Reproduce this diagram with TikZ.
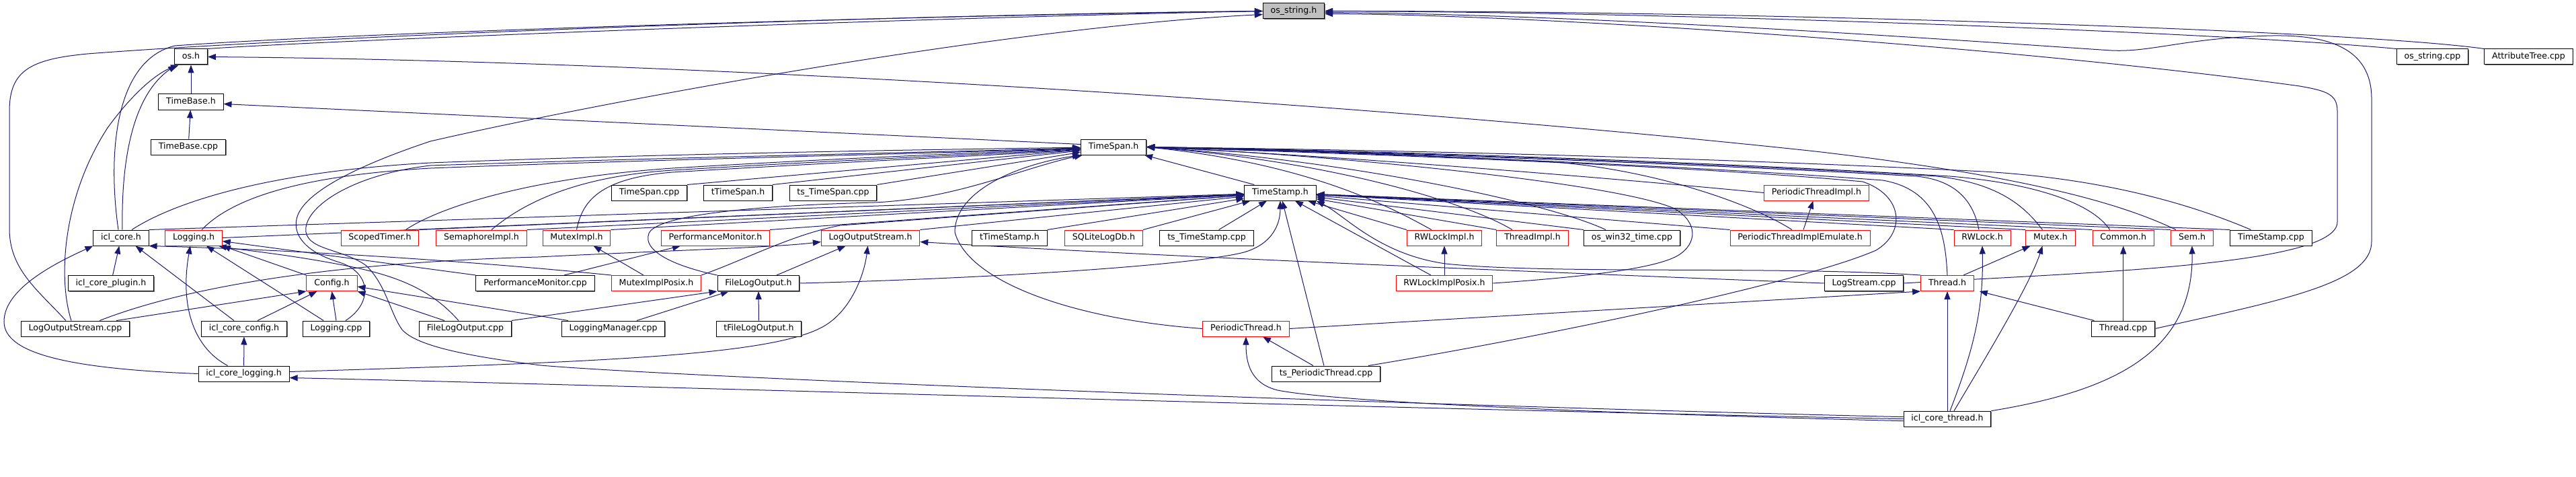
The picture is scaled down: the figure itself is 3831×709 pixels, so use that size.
\documentclass[tikz,border=0pt]{standalone}
\usepackage{fontspec}
\setmainfont{DejaVu Sans}
\usetikzlibrary{arrows.meta,shadows}
\definecolor{edgecol}{HTML}{191970}
\definecolor{redb}{HTML}{FF0000}
\definecolor{grayf}{HTML}{BFBFBF}
\pgfdeclarelayer{edgelayer}
\pgfsetlayers{edgelayer,main}
\begin{document}
\begin{tikzpicture}[x=1bp,y=-1bp,
  fb/.style={draw=black, line width=1bp, fill=white, minimum height=23bp, inner xsep=11.3bp, inner ysep=0pt,
             text height=9.5bp, text depth=3bp, font=\fontsize{12.6bp}{15bp}\selectfont, text=black},
  bb/.style={fb, drop shadow={shadow xshift=1.2bp, shadow yshift=-1.2bp, fill=black!55, opacity=1}},
  rb/.style={fb, draw=redb},
  gb/.style={bb, fill=grayf},
  dep/.style={draw=edgecol, line width=1bp, -{Triangle[length=12bp,width=9bp]}},
]
\useasboundingbox (0,0) rectangle (3831,709);

% ---------- nodes ----------
\node[gb] (os_string) at (1924,16.5) {os\_string.h};
\node[bb] (os) at (284,84.5) {os.h};
\node[bb] (os_string_cpp) at (3617.5,84.5) {os\_string.cpp};
\node[bb] (AttributeTree) at (3760.5,84.5) {AttributeTree.cpp};
\node[bb] (TimeBase_h) at (284,151.5) {TimeBase.h};
\node[bb] (TimeBase_cpp) at (280,218.5) {TimeBase.cpp};
\node[bb] (TimeSpan_h) at (1656,218.5) {TimeSpan.h};
\node[bb] (TimeSpan_cpp) at (965.5,286.5) {TimeSpan.cpp};
\node[bb] (tTimeSpan) at (1097.5,286.5) {tTimeSpan.h};
\node[bb] (ts_TimeSpan) at (1239,286.5) {ts\_TimeSpan.cpp};
\node[bb] (TimeStamp_h) at (1904,286.5) {TimeStamp.h};
\node[rb] (PTI) at (2701.5,286.5) {PeriodicThreadImpl.h};

\node[bb] (icl_core) at (180,353.5) {icl\_core.h};
\node[rb] (Logging_h) at (288,353.5) {Logging.h};
\node[rb] (ScopedTimer) at (565,353.5) {ScopedTimer.h};
\node[rb] (SemaphoreImpl) at (716,353.5) {SemaphoreImpl.h};
\node[rb] (MutexImpl_h) at (857.5,353.5) {MutexImpl.h};
\node[rb] (PerfMon_h) at (1064,353.5) {PerformanceMonitor.h};
\node[rb] (LOS_h) at (1294.6,353.5) {LogOutputStream.h};
\node[bb] (tTimeStamp) at (1501.5,353.5) {tTimeStamp.h};
\node[rb] (SQLiteLogDb) at (1641.5,353.5) {SQLiteLogDb.h};
\node[bb] (ts_TimeStamp) at (1794.5,353.5) {ts\_TimeStamp.cpp};
\node[rb] (RWLockImpl_h) at (2148,353.5) {RWLockImpl.h};
\node[rb] (ThreadImpl_h) at (2279,353.5) {ThreadImpl.h};
\node[bb] (os_win32_time) at (2427,353.5) {os\_win32\_time.cpp};
\node[rb] (PTIE) at (2677,353.5) {PeriodicThreadImplEmulate.h};
\node[rb] (RWLock_h) at (2948,353.5) {RWLock.h};
\node[rb] (Mutex_h) at (3049.5,353.5) {Mutex.h};
\node[rb] (Common_h) at (3157.7,353.5) {Common.h};
\node[rb] (Sem_h) at (3260,353.5) {Sem.h};
\node[bb] (TimeStamp_cpp) at (3377.5,353.5) {TimeStamp.cpp};

\node[bb] (icl_core_plugin) at (165,421) {icl\_core\_plugin.h};
\node[rb] (Config_h) at (493.5,421) {Config.h};
\node[bb] (PerfMon_cpp) at (796,421) {PerformanceMonitor.cpp};
\node[rb] (MutexImplPosix) at (976,421) {MutexImplPosix.h};
\node[bb] (FLO_h) at (1128,421) {FileLogOutput.h};
\node[rb] (RWLockImplPosix) at (2148,421) {RWLockImplPosix.h};
\node[bb] (LogStream_cpp) at (2772,421) {LogStream.cpp};
\node[rb] (Thread_h) at (2896,421) {Thread.h};

\node[bb] (LOScpp) at (112,488.5) {LogOutputStream.cpp};
\node[bb] (icl_core_config) at (363,488.5) {icl\_core\_config.h};
\node[bb] (Logging_cpp) at (500,488.5) {Logging.cpp};
\node[bb] (FLO_cpp) at (692,488.5) {FileLogOutput.cpp};
\node[bb] (LoggingManager) at (912,488.5) {LoggingManager.cpp};
\node[bb] (tFLO) at (1128.5,488.5) {tFileLogOutput.h};
\node[rb] (PeriodicThread_h) at (1853,488.5) {PeriodicThread.h};
\node[bb] (Thread_cpp) at (3157.7,488.5) {Thread.cpp};

\node[bb] (icl_core_logging) at (362.6,555.5) {icl\_core\_logging.h};
\node[bb] (ts_PeriodicThread) at (1972,555.5) {ts\_PeriodicThread.cpp};
\node[bb] (icl_core_thread) at (2896,622.7) {icl\_core\_thread.h};

% ---------- edges ----------
\begin{pgfonlayer}{edgelayer}
% into os_string.h
\draw[dep] (os.north east) .. controls (450,62) and (1300,28) .. (os_string.west);
\draw[dep] ([xshift=-4bp]icl_core.north) .. controls (160,230) and (170,90) .. (260,68) .. controls (500,50) and (1300,24) .. (os_string.west);
\draw[dep] ([xshift=-14bp]LOScpp.north) .. controls (55,430) and (14,400) .. (14,340) -- (14,165) .. controls (14,105) and (45,88) .. (130,80) .. controls (450,55) and (1300,22) .. (os_string.west);
\draw[dep] ([xshift=14bp]Logging_cpp.north) .. controls (555,450) and (552,405) .. (505,390) .. controls (455,375) and (436,350) .. (441,326) .. controls (448,290) and (520,250) .. (640,210) .. controls (900,150) and (1500,40) .. ([yshift=-5bp]os_string.west);
\draw[dep] (os_string_cpp.north west) .. controls (3300,48) and (2500,18) .. (os_string.east);
\draw[dep] (AttributeTree.north west) .. controls (3500,45) and (2600,16) .. (os_string.east);
\draw[dep] (Thread_cpp.east) .. controls (3400,445) and (3527,420) .. (3527,359) -- (3527,147) .. controls (3527,70) and (3460,52) .. (3380,53) .. controls (3250,56) and (3200,78) .. (3140,75) .. controls (3000,66) and (2400,22) .. ([yshift=-2bp]os_string.east);
\draw[dep] (LogStream_cpp.east) .. controls (3100,405) and (3476,395) .. (3476,330) -- (3476,165) .. controls (3476,140) and (3460,135) .. (3420,128) .. controls (3000,70) and (2300,22) .. ([yshift=-4bp]os_string.east);

% into os.h
\draw[dep] ([xshift=2bp]icl_core.north) .. controls (180,230) and (200,140) .. ([xshift=3bp]os.south west);
\draw[dep] ([xshift=-6bp]LOScpp.north) .. controls (85,410) and (95,290) .. (160,190) .. controls (200,135) and (235,108) .. ([xshift=7bp]os.south west);
\draw[dep] (TimeBase_h) -- (os);
\draw[dep] ([xshift=-24bp]Sem_h.north) .. controls (3150,300) and (3000,260) .. (2700,225) .. controls (2000,150) and (1000,90) .. (os.east);

% into TimeBase.h
\draw[dep] (TimeBase_cpp) -- (TimeBase_h);
\draw[dep] ([yshift=4bp]TimeSpan_h.west) -- ([yshift=-3bp]TimeBase_h.east);

% into TimeSpan.h from the left
\draw[dep] ([xshift=16bp]icl_core.north) .. controls (260,300) and (400,255) .. (640,242) .. controls (1000,228) and (1400,222) .. (TimeSpan_h);
\draw[dep] ([xshift=12bp]Logging_h.north) .. controls (340,300) and (430,262) .. (640,250) .. controls (1000,236) and (1400,228) .. (TimeSpan_h);
\draw[dep] ([xshift=-20bp]ScopedTimer.north east) .. controls (650,310) and (780,265) .. (1000,250) .. controls (1300,232) and (1500,226) .. (TimeSpan_h);
\draw[dep] ([xshift=15bp]SemaphoreImpl.north) .. controls (780,300) and (860,262) .. (1000,253) .. controls (1300,235) and (1500,228) .. (TimeSpan_h);
\draw[dep] (MutexImpl_h.north) .. controls (866,300) and (890,265) .. (1000,256) .. controls (1300,238) and (1500,230) .. (TimeSpan_h);
\draw[dep] (TimeSpan_cpp.north east) -- (TimeSpan_h);
\draw[dep] (tTimeSpan.north east) -- (TimeSpan_h);
\draw[dep] (ts_TimeSpan.north east) -- (TimeSpan_h);
\draw[dep] (PeriodicThread_h.west) .. controls (1600,475) and (1440,420) .. (1420,345) .. controls (1420,285) and (1510,245) .. (TimeSpan_h.south west);
\draw[dep] (FLO_h.north west) .. controls (1000,395) and (955,372) .. (965,347) .. controls (975,322) and (1100,306) .. (1300,301) .. controls (1420,296) and (1520,250) .. ([xshift=3bp]TimeSpan_h.south west);
\draw[dep] ([yshift=3bp]icl_core_thread.west) .. controls (2000,600) and (1000,560) .. (804,543) .. controls (700,530) and (620,515) .. (598,490) .. controls (580,465) and (575,425) .. (545,395) .. controls (510,370) and (460,372) .. (455,345) .. controls (450,310) and (520,260) .. (640,246) .. controls (1000,234) and (1400,226) .. (TimeSpan_h);

% into TimeSpan.h from the right
\draw[dep] ([xshift=15bp]TimeStamp_h.north west) -- ([xshift=-3bp]TimeSpan_h.south east);
\draw[dep] ([xshift=-19bp]RWLockImpl_h.north) .. controls (2080,315) and (1960,245) .. (TimeSpan_h.east);
\draw[dep] ([xshift=-30bp]ThreadImpl_h.north) .. controls (2180,300) and (1980,240) .. (TimeSpan_h.east);
\draw[dep] ([xshift=-39bp]os_win32_time.north) .. controls (2300,300) and (2000,238) .. (TimeSpan_h.east);
\draw[dep] (PTI.west) .. controls (2400,265) and (2000,232) .. (TimeSpan_h.east);
\draw[dep] ([xshift=-12bp]PTIE.north) .. controls (2600,300) and (2450,250) .. (2300,240) .. controls (2000,225) and (1800,220) .. (TimeSpan_h.east);
\draw[dep] ([xshift=-18bp]ts_PeriodicThread.north east) .. controls (2300,500) and (2680,420) .. (2790,372) .. controls (2835,345) and (2830,290) .. (2770,270) .. controls (2500,245) and (2000,228) .. (TimeSpan_h.east);
\draw[dep] (Thread_h.north) .. controls (2893,345) and (2880,282) .. (2800,268) .. controls (2500,245) and (2000,226) .. (TimeSpan_h.east);
\draw[dep] ([xshift=-5bp]RWLock_h.north) .. controls (2935,300) and (2910,268) .. (2850,262) .. controls (2500,242) and (2000,225) .. (TimeSpan_h.east);
\draw[dep] ([xshift=-12bp]Mutex_h.north) .. controls (3010,305) and (2970,272) .. (2880,262) .. controls (2500,240) and (2000,224) .. (TimeSpan_h.east);
\draw[dep] ([xshift=-20bp]Common_h.north) .. controls (3110,300) and (3020,272) .. (2900,262) .. controls (2500,238) and (2000,223) .. (TimeSpan_h.east);
\draw[dep] ([xshift=-30bp]TimeStamp_cpp.north) .. controls (3250,300) and (3120,265) .. (2950,255) .. controls (2500,232) and (2000,222) .. (TimeSpan_h.east);
\draw[dep] (RWLockImplPosix.east) .. controls (2350,412) and (2460,400) .. (2495,380) .. controls (2525,362) and (2525,330) .. (2490,310) .. controls (2400,270) and (1950,228) .. (TimeSpan_h.east);

% into TimeStamp.h from the left
\draw[dep] (icl_core.north east) -- (TimeStamp_h);
\draw[dep] (Logging_h.east) -- (TimeStamp_h);
\draw[dep] (ScopedTimer.north east) -- (TimeStamp_h);
\draw[dep] (SemaphoreImpl.north east) -- (TimeStamp_h);
\draw[dep] (MutexImpl_h.north east) -- (TimeStamp_h);
\draw[dep] (PerfMon_h.north east) -- (TimeStamp_h);
\draw[dep] (LOS_h.north east) -- (TimeStamp_h);
\draw[dep] (tTimeStamp.north east) -- (TimeStamp_h);
\draw[dep] (SQLiteLogDb.north east) -- (TimeStamp_h);
\draw[dep] ([xshift=18bp]ts_TimeStamp.north) -- (TimeStamp_h);
\draw[dep] (MutexImplPosix.north east) .. controls (1110,385) and (1180,348) .. (1250,335) -- (TimeStamp_h);
\draw[dep] (FLO_h.east) .. controls (1500,413) and (1780,393) .. (1850,375) .. controls (1895,362) and (1904,330) .. (TimeStamp_h.south);
\draw[dep] (ts_PeriodicThread) -- (TimeStamp_h);
\draw[dep] ([xshift=-20bp]RWLockImplPosix.north) -- (TimeStamp_h);
\draw[dep] (Thread_h.north west) .. controls (2650,395) and (2300,408) .. (2150,392) .. controls (2050,378) and (2000,320) .. (TimeStamp_h.south east);

% into TimeStamp.h from the right
\draw[dep] (RWLockImpl_h.north west) -- (TimeStamp_h);
\draw[dep] (ThreadImpl_h.north west) -- (TimeStamp_h);
\draw[dep] (os_win32_time.north west) -- (TimeStamp_h);
\draw[dep] (PTIE.north west) -- (TimeStamp_h);
\draw[dep] (RWLock_h.north west) -- (TimeStamp_h);
\draw[dep] (Mutex_h.north west) -- (TimeStamp_h);
\draw[dep] (Common_h.north west) -- (TimeStamp_h);
\draw[dep] (Sem_h.north west) -- (TimeStamp_h);
\draw[dep] (TimeStamp_cpp.north west) -- (TimeStamp_h);

% into icl_core.h
\draw[dep] (icl_core_plugin) -- (icl_core);
\draw[dep] ([xshift=-15bp]icl_core_config.north) -- ([xshift=-20bp]icl_core.south east);
\draw[dep] (icl_core_logging.west) .. controls (100,548) and (6,525) .. (6,478) .. controls (6,430) and (80,392) .. (icl_core.south west);
\draw[dep] (MutexImplPosix.north west) .. controls (700,388) and (450,372) .. (icl_core.south east);

% into Logging.h
\draw[dep] (Config_h.north west) -- (Logging_h.south east);
\draw[dep] (Logging_cpp) -- (Logging_h);
\draw[dep] ([xshift=-24bp]icl_core_logging.north) .. controls (285,515) and (268,450) .. ([xshift=-5bp]Logging_h.south);
\draw[dep] (PerfMon_cpp.north west) -- ([yshift=-5bp]Logging_h.east);
\draw[dep] ([xshift=-10bp]FLO_cpp.north) .. controls (645,435) and (600,412) .. (520,396) .. controls (430,378) and (360,372) .. ([xshift=-6bp]Logging_h.south east);

% into Config.h
\draw[dep] ([xshift=-20bp]LOScpp.north east) -- (Config_h.south west);
\draw[dep] ([xshift=20bp]icl_core_config.north) -- ([xshift=-22bp]Config_h.south);
\draw[dep] (Logging_cpp.north) -- (Config_h.south);
\draw[dep] ([xshift=-31bp]FLO_cpp.north) -- (Config_h.south east);
\draw[dep] ([xshift=-67bp]LoggingManager.north) -- ([yshift=-5bp]Config_h.east);

% into LogOutputStream.h
\draw[dep] ([xshift=-45bp]LOScpp.north east) .. controls (280,425) and (500,390) .. (800,382) .. controls (1000,372) and (1150,368) .. ([yshift=-6bp]LOS_h.west);
\draw[dep] ([xshift=27bp]FLO_h.north) -- ([xshift=-37bp]LOS_h.south);
\draw[dep] ([yshift=3bp]icl_core_logging.east) .. controls (900,538) and (1150,528) .. (1225,485) .. controls (1265,462) and (1285,410) .. ([xshift=-4bp]LOS_h.south);
\draw[dep] (LogStream_cpp.west) .. controls (2300,405) and (1700,380) .. ([yshift=-6bp]LOS_h.east);

% other headers
\draw[dep] ([xshift=43bp]PerfMon_cpp.north) -- ([xshift=-52bp]PerfMon_h.south);
\draw[dep] ([xshift=-19bp]MutexImplPosix.north) -- ([xshift=25bp]MutexImpl_h.south);
\draw[dep] (FLO_cpp.north east) -- (FLO_h.south west);
\draw[dep] ([xshift=35bp]LoggingManager.north) -- ([xshift=-44bp]FLO_h.south);
\draw[dep] (tFLO) -- (FLO_h);
\draw[dep] (RWLockImplPosix) -- (RWLockImpl_h);
\draw[dep] ([xshift=5bp]PTIE.north) -- ([xshift=-5bp]PTI.south);

% thread part
\draw[dep] (PeriodicThread_h.east) -- (Thread_h.south west);
\draw[dep] ([xshift=4bp]Thread_cpp.north west) -- ([xshift=8bp]Thread_h.south east);
\draw[dep] (icl_core_thread) -- (Thread_h);
\draw[dep] ([xshift=24bp]Thread_h.north) -- ([xshift=-30bp]Mutex_h.south);
\draw[dep] ([xshift=10bp]icl_core_thread.north) .. controls (2960,520) and (3020,420) .. ([xshift=-12bp]Mutex_h.south);
\draw[dep] ([xshift=4bp]icl_core_thread.north) .. controls (2935,520) and (2950,460) .. (RWLock_h.south);
\draw[dep] (Thread_cpp) -- (Common_h);
\draw[dep] (icl_core_thread.north east) .. controls (3150,580) and (3262,520) .. (Sem_h.south);
\draw[dep] ([xshift=-19bp]ts_PeriodicThread.north) -- ([xshift=25bp]PeriodicThread_h.south);
\draw[dep] ([yshift=-3bp]icl_core_thread.west) .. controls (2400,615) and (1990,598) .. (1900,580) .. controls (1860,570) and (1853,540) .. (PeriodicThread_h.south);
\draw[dep] (icl_core_logging) -- (icl_core_config);
\draw[dep] (icl_core_thread.west) .. controls (2000,606) and (900,572) .. ([yshift=-6bp]icl_core_logging.east);
\end{pgfonlayer}
\end{tikzpicture}
\end{document}
